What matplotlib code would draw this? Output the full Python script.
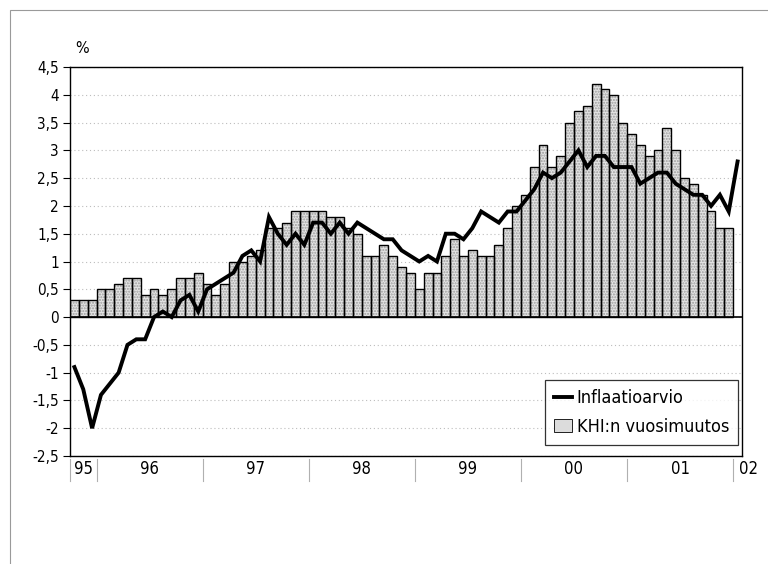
import matplotlib
matplotlib.use("Agg")
import matplotlib.pyplot as plt
from matplotlib.patches import Patch, Rectangle
from matplotlib.lines import Line2D
import numpy as np

plt.rcParams['font.family'] = ['DejaVu Sans']
plt.rcParams['font.stretch'] = 'condensed'

# Monthly data, Oct 1995 .. Dec 2001 (bars) and .. Jan 2002 (line)
khi_vuosimuutos = [
    0.3, 0.3, 0.3,                                               # 1995 Oct-Dec
    0.5, 0.5, 0.6, 0.7, 0.7, 0.4, 0.5, 0.4, 0.5, 0.7, 0.7, 0.8,  # 1996
    0.6, 0.4, 0.6, 1.0, 1.0, 1.1, 1.2, 1.6, 1.6, 1.7, 1.9, 1.9,  # 1997
    1.9, 1.9, 1.8, 1.8, 1.6, 1.5, 1.1, 1.1, 1.3, 1.1, 0.9, 0.8,  # 1998
    0.5, 0.8, 0.8, 1.1, 1.4, 1.1, 1.2, 1.1, 1.1, 1.3, 1.6, 2.0,  # 1999
    2.2, 2.7, 3.1, 2.7, 2.9, 3.5, 3.7, 3.8, 4.2, 4.1, 4.0, 3.5,  # 2000
    3.3, 3.1, 2.9, 3.0, 3.4, 3.0, 2.5, 2.4, 2.2, 1.9, 1.6, 1.6,  # 2001
]
inflaatioarvio = [
    -0.9, -1.3, -2.0,
    -1.4, -1.2, -1.0, -0.5, -0.4, -0.4, 0.0, 0.1, 0.0, 0.3, 0.4, 0.1,
    0.5, 0.6, 0.7, 0.8, 1.1, 1.2, 1.0, 1.8, 1.5, 1.3, 1.5, 1.3,
    1.7, 1.7, 1.5, 1.7, 1.5, 1.7, 1.6, 1.5, 1.4, 1.4, 1.2, 1.1,
    1.0, 1.1, 1.0, 1.5, 1.5, 1.4, 1.6, 1.9, 1.8, 1.7, 1.9, 1.9,
    2.1, 2.3, 2.6, 2.5, 2.6, 2.8, 3.0, 2.7, 2.9, 2.9, 2.7, 2.7,
    2.7, 2.4, 2.5, 2.6, 2.6, 2.4, 2.3, 2.2, 2.2, 2.0, 2.2, 1.9,
    2.8,                                                         # 2002 Jan
]
year_labels = ['95', '96', '97', '98', '99', '00', '01', '02']
months_per_year = [3, 12, 12, 12, 12, 12, 12, 1]
y_ticks = [4.5, 4, 3.5, 3, 2.5, 2, 1.5, 1, 0.5, 0, -0.5, -1, -1.5, -2, -2.5]

W, H = 768, 564
fig = plt.figure(figsize=(W / 100, H / 100), dpi=100)
fig.patch.set_facecolor('white')
L, R, T, B = 70, 742, 67, 456
ax = fig.add_axes([L / W, 1 - B / H, (R - L) / W, (B - T) / H])

xb = np.arange(len(khi_vuosimuutos))
xl = np.arange(len(inflaatioarvio))

ax.bar(xb, khi_vuosimuutos, width=1.0, facecolor='#e4e4e4', edgecolor='#9c9c9c',
       hatch='......', linewidth=0, zorder=2)
ax.bar(xb, khi_vuosimuutos, width=1.0, fill=False, edgecolor='black',
       linewidth=1.0, zorder=3)
ax.plot(xl, inflaatioarvio, color='black', linewidth=2.8, zorder=4,
        solid_joinstyle='miter')
ax.axhline(0, color='black', linewidth=1.2, zorder=3.5)

ax.set_xlim(-0.5, 75.5)
ax.set_ylim(-2.5, 4.5)
ax.set_yticks(y_ticks)
ax.set_yticklabels([('%g' % v).replace('.', ',') for v in y_ticks], fontsize=11)
ax.set_xticks([])
ax.tick_params(axis='y', direction='out', length=5, width=0.8, pad=3)
ax.set_axisbelow(True)
ax.yaxis.grid(True, linestyle=(0, (1, 2.5)), color='#bdbdbd', linewidth=0.8)
for s in ax.spines.values():
    s.set_linewidth(1.0)
    s.set_color('black')

ax.text(0.1, 4.7, '%', fontsize=11.5, ha='left', va='bottom')

# year labels and separators below the axis
trans = ax.get_xaxis_transform()
start = -0.5
label_y = -(469 - B) / (B - T)
sep_top = -(459 - B) / (B - T)
sep_bot = -(481 - B) / (B - T)
for lab, n in zip(year_labels, months_per_year):
    ax.plot([start, start], [sep_top, sep_bot], transform=trans, color='#b0b0b0',
            linewidth=0.8, clip_on=False)
    centre = start + n / 2 if n > 1 else start + 1.7
    ax.text(centre, label_y, lab, transform=trans, ha='center', va='center',
            fontsize=12)
    start += n

handles = [Line2D([0], [0], color='black', linewidth=2.8),
           Patch(facecolor='#dcdcdc', edgecolor='black', linewidth=0.6)]
leg = ax.legend(handles, ['Inflaatioarvio', 'KHI:n vuosimuutos'],
                loc='lower right', bbox_to_anchor=((738 - L) / (R - L), (B - 445) / (B - T)),
                fontsize=13, frameon=True, fancybox=False, edgecolor='black',
                handlelength=1.0, handletextpad=0.25, borderpad=0.5,
                labelspacing=0.6, borderaxespad=0)
leg.get_frame().set_linewidth(0.9)
leg.set_zorder(6)

fig.add_artist(Rectangle((10 / W, -0.01), 1, 1 - 10 / H + 0.01, transform=fig.transFigure,
                         fill=False, edgecolor='#9a9a9a', linewidth=0.8))

fig.savefig('out.png', dpi=100, facecolor='white')
